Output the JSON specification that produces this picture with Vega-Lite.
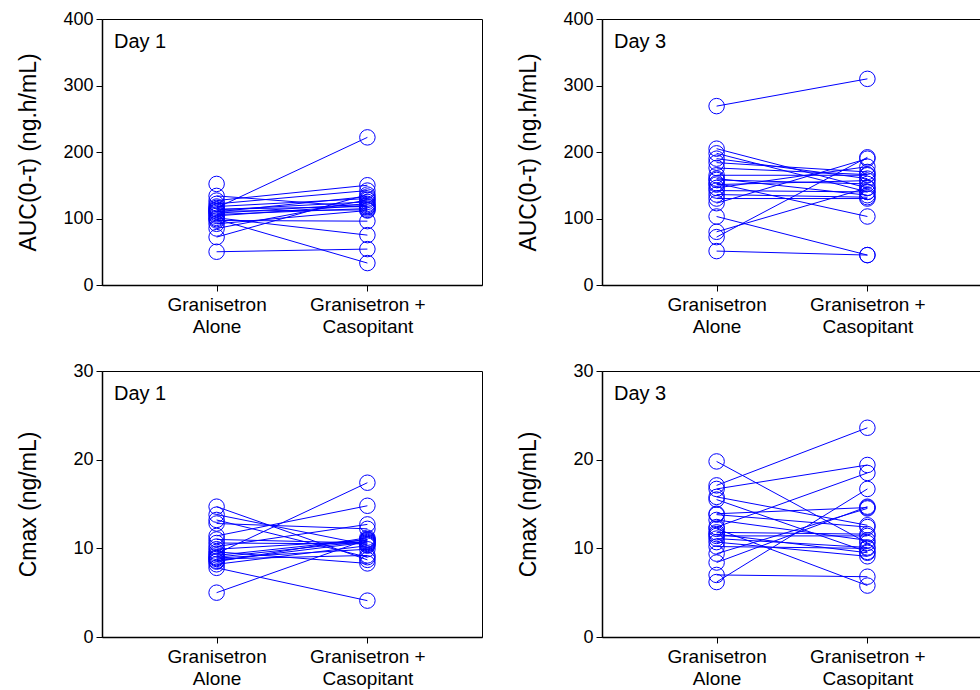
{
  "$schema": "https://vega.github.io/schema/vega-lite/v6.json",
  "background": "white",
  "padding": {"left": 16, "top": 9, "right": 0, "bottom": 0},
  "data": {"values": [
    {"measure":"AUC","day":"Day 1","subject":1,"alone":152,"combined":null},
    {"measure":"AUC","day":"Day 1","subject":2,"alone":116,"combined":222},
    {"measure":"AUC","day":"Day 1","subject":3,"alone":127,"combined":150},
    {"measure":"AUC","day":"Day 1","subject":4,"alone":122,"combined":142},
    {"measure":"AUC","day":"Day 1","subject":5,"alone":72,"combined":136},
    {"measure":"AUC","day":"Day 1","subject":6,"alone":110,"combined":133},
    {"measure":"AUC","day":"Day 1","subject":7,"alone":118,"combined":130},
    {"measure":"AUC","day":"Day 1","subject":8,"alone":85,"combined":128},
    {"measure":"AUC","day":"Day 1","subject":9,"alone":113,"combined":125},
    {"measure":"AUC","day":"Day 1","subject":10,"alone":108,"combined":122},
    {"measure":"AUC","day":"Day 1","subject":11,"alone":114,"combined":118},
    {"measure":"AUC","day":"Day 1","subject":12,"alone":106,"combined":115},
    {"measure":"AUC","day":"Day 1","subject":13,"alone":111,"combined":113},
    {"measure":"AUC","day":"Day 1","subject":14,"alone":104,"combined":120},
    {"measure":"AUC","day":"Day 1","subject":15,"alone":97,"combined":96},
    {"measure":"AUC","day":"Day 1","subject":16,"alone":101,"combined":75},
    {"measure":"AUC","day":"Day 1","subject":17,"alone":99,"combined":33},
    {"measure":"AUC","day":"Day 1","subject":18,"alone":50,"combined":54},
    {"measure":"AUC","day":"Day 1","subject":19,"alone":92,"combined":112},
    {"measure":"AUC","day":"Day 1","subject":20,"alone":134,"combined":117},
    {"measure":"AUC","day":"Day 3","subject":1,"alone":269,"combined":310},
    {"measure":"AUC","day":"Day 3","subject":2,"alone":205,"combined":146},
    {"measure":"AUC","day":"Day 3","subject":3,"alone":198,"combined":140},
    {"measure":"AUC","day":"Day 3","subject":4,"alone":190,"combined":160},
    {"measure":"AUC","day":"Day 3","subject":5,"alone":184,"combined":170},
    {"measure":"AUC","day":"Day 3","subject":6,"alone":176,"combined":166},
    {"measure":"AUC","day":"Day 3","subject":7,"alone":165,"combined":165},
    {"measure":"AUC","day":"Day 3","subject":8,"alone":158,"combined":152},
    {"measure":"AUC","day":"Day 3","subject":9,"alone":153,"combined":103},
    {"measure":"AUC","day":"Day 3","subject":10,"alone":151,"combined":157},
    {"measure":"AUC","day":"Day 3","subject":11,"alone":146,"combined":178},
    {"measure":"AUC","day":"Day 3","subject":12,"alone":142,"combined":140},
    {"measure":"AUC","day":"Day 3","subject":13,"alone":136,"combined":132},
    {"measure":"AUC","day":"Day 3","subject":14,"alone":130,"combined":130},
    {"measure":"AUC","day":"Day 3","subject":15,"alone":123,"combined":190},
    {"measure":"AUC","day":"Day 3","subject":16,"alone":103,"combined":45},
    {"measure":"AUC","day":"Day 3","subject":17,"alone":80,"combined":146},
    {"measure":"AUC","day":"Day 3","subject":18,"alone":72,"combined":192},
    {"measure":"AUC","day":"Day 3","subject":19,"alone":51,"combined":45},
    {"measure":"AUC","day":"Day 3","subject":20,"alone":160,"combined":135},
    {"measure":"Cmax","day":"Day 1","subject":1,"alone":14.7,"combined":8.7},
    {"measure":"Cmax","day":"Day 1","subject":2,"alone":13.2,"combined":9.0},
    {"measure":"Cmax","day":"Day 1","subject":3,"alone":12.8,"combined":12.2},
    {"measure":"Cmax","day":"Day 1","subject":4,"alone":11.4,"combined":14.8},
    {"measure":"Cmax","day":"Day 1","subject":5,"alone":11.0,"combined":10.6},
    {"measure":"Cmax","day":"Day 1","subject":6,"alone":10.6,"combined":10.5},
    {"measure":"Cmax","day":"Day 1","subject":7,"alone":10.2,"combined":12.7},
    {"measure":"Cmax","day":"Day 1","subject":8,"alone":9.9,"combined":10.9},
    {"measure":"Cmax","day":"Day 1","subject":9,"alone":9.4,"combined":17.4},
    {"measure":"Cmax","day":"Day 1","subject":10,"alone":9.2,"combined":11.0},
    {"measure":"Cmax","day":"Day 1","subject":11,"alone":9.0,"combined":10.8},
    {"measure":"Cmax","day":"Day 1","subject":12,"alone":8.8,"combined":9.2},
    {"measure":"Cmax","day":"Day 1","subject":13,"alone":8.6,"combined":10.7},
    {"measure":"Cmax","day":"Day 1","subject":14,"alone":8.5,"combined":11.2},
    {"measure":"Cmax","day":"Day 1","subject":15,"alone":8.2,"combined":10.3},
    {"measure":"Cmax","day":"Day 1","subject":16,"alone":7.8,"combined":4.1},
    {"measure":"Cmax","day":"Day 1","subject":17,"alone":5.0,"combined":11.0},
    {"measure":"Cmax","day":"Day 1","subject":18,"alone":13.8,"combined":10.4},
    {"measure":"Cmax","day":"Day 1","subject":19,"alone":9.6,"combined":8.3},
    {"measure":"Cmax","day":"Day 1","subject":20,"alone":8.9,"combined":9.9},
    {"measure":"Cmax","day":"Day 3","subject":1,"alone":19.8,"combined":10.6},
    {"measure":"Cmax","day":"Day 3","subject":2,"alone":17.1,"combined":23.6},
    {"measure":"Cmax","day":"Day 3","subject":3,"alone":16.7,"combined":19.4},
    {"measure":"Cmax","day":"Day 3","subject":4,"alone":15.8,"combined":12.6},
    {"measure":"Cmax","day":"Day 3","subject":5,"alone":15.5,"combined":9.6},
    {"measure":"Cmax","day":"Day 3","subject":6,"alone":13.9,"combined":14.6},
    {"measure":"Cmax","day":"Day 3","subject":7,"alone":13.8,"combined":12.4},
    {"measure":"Cmax","day":"Day 3","subject":8,"alone":12.4,"combined":18.5},
    {"measure":"Cmax","day":"Day 3","subject":9,"alone":12.2,"combined":5.8},
    {"measure":"Cmax","day":"Day 3","subject":10,"alone":11.8,"combined":11.6},
    {"measure":"Cmax","day":"Day 3","subject":11,"alone":11.4,"combined":11.4},
    {"measure":"Cmax","day":"Day 3","subject":12,"alone":11.1,"combined":10.1},
    {"measure":"Cmax","day":"Day 3","subject":13,"alone":10.7,"combined":9.1},
    {"measure":"Cmax","day":"Day 3","subject":14,"alone":10.2,"combined":10.0},
    {"measure":"Cmax","day":"Day 3","subject":15,"alone":9.4,"combined":14.5},
    {"measure":"Cmax","day":"Day 3","subject":16,"alone":8.4,"combined":14.7},
    {"measure":"Cmax","day":"Day 3","subject":17,"alone":7.0,"combined":6.8},
    {"measure":"Cmax","day":"Day 3","subject":18,"alone":6.2,"combined":16.7},
    {"measure":"Cmax","day":"Day 3","subject":19,"alone":11.6,"combined":9.5},
    {"measure":"Cmax","day":"Day 3","subject":20,"alone":13.2,"combined":10.9}
  ]},
  "spacing": 24,
  "vconcat": [
    {"spacing": 33, "hconcat": [
      {
        "width": 380, "height": 266,
        "title": {"text": "Day 1"},
        "transform": [{"filter": "datum.measure == 'AUC' && datum.day == 'Day 1'"}, {"fold": ["alone", "combined"], "as": ["treatment", "value"]}],
        "encoding": {
          "x": {"field": "treatment", "type": "nominal", "scale": {"type": "point", "padding": 0.76, "domain": ["alone", "combined"]}, "axis": {"title": null, "labelExpr": "datum.value == 'alone' ? ['Granisetron', 'Alone'] : ['Granisetron +', 'Casopitant']"}},
          "y": {"field": "value", "type": "quantitative", "scale": {"domain": [0, 400], "nice": false}, "axis": {"title": "AUC(0-τ) (ng.h/mL)", "values": [0, 100, 200, 300, 400]}}
        },
        "layer": [
          {"mark": {"type": "line", "color": "#0000ff", "strokeWidth": 1}, "encoding": {"detail": {"field": "subject", "type": "nominal"}}},
          {"mark": {"type": "point", "shape": "circle", "filled": false, "color": "#0000ff", "size": 240, "strokeWidth": 1, "opacity": 1}}
        ]
      },
      {
        "width": 380, "height": 266,
        "title": {"text": "Day 3"},
        "transform": [{"filter": "datum.measure == 'AUC' && datum.day == 'Day 3'"}, {"fold": ["alone", "combined"], "as": ["treatment", "value"]}],
        "encoding": {
          "x": {"field": "treatment", "type": "nominal", "scale": {"type": "point", "padding": 0.76, "domain": ["alone", "combined"]}, "axis": {"title": null, "labelExpr": "datum.value == 'alone' ? ['Granisetron', 'Alone'] : ['Granisetron +', 'Casopitant']"}},
          "y": {"field": "value", "type": "quantitative", "scale": {"domain": [0, 400], "nice": false}, "axis": {"title": "AUC(0-τ) (ng.h/mL)", "values": [0, 100, 200, 300, 400]}}
        },
        "layer": [
          {"mark": {"type": "line", "color": "#0000ff", "strokeWidth": 1}, "encoding": {"detail": {"field": "subject", "type": "nominal"}}},
          {"mark": {"type": "point", "shape": "circle", "filled": false, "color": "#0000ff", "size": 240, "strokeWidth": 1, "opacity": 1}}
        ]
      }
    ]},
    {"spacing": 33, "hconcat": [
      {
        "width": 380, "height": 266,
        "title": {"text": "Day 1"},
        "transform": [{"filter": "datum.measure == 'Cmax' && datum.day == 'Day 1'"}, {"fold": ["alone", "combined"], "as": ["treatment", "value"]}],
        "encoding": {
          "x": {"field": "treatment", "type": "nominal", "scale": {"type": "point", "padding": 0.76, "domain": ["alone", "combined"]}, "axis": {"title": null, "labelExpr": "datum.value == 'alone' ? ['Granisetron', 'Alone'] : ['Granisetron +', 'Casopitant']"}},
          "y": {"field": "value", "type": "quantitative", "scale": {"domain": [0, 30], "nice": false}, "axis": {"title": "Cmax (ng/mL)", "values": [0, 10, 20, 30]}}
        },
        "layer": [
          {"mark": {"type": "line", "color": "#0000ff", "strokeWidth": 1}, "encoding": {"detail": {"field": "subject", "type": "nominal"}}},
          {"mark": {"type": "point", "shape": "circle", "filled": false, "color": "#0000ff", "size": 240, "strokeWidth": 1, "opacity": 1}}
        ]
      },
      {
        "width": 380, "height": 266,
        "title": {"text": "Day 3"},
        "transform": [{"filter": "datum.measure == 'Cmax' && datum.day == 'Day 3'"}, {"fold": ["alone", "combined"], "as": ["treatment", "value"]}],
        "encoding": {
          "x": {"field": "treatment", "type": "nominal", "scale": {"type": "point", "padding": 0.76, "domain": ["alone", "combined"]}, "axis": {"title": null, "labelExpr": "datum.value == 'alone' ? ['Granisetron', 'Alone'] : ['Granisetron +', 'Casopitant']"}},
          "y": {"field": "value", "type": "quantitative", "scale": {"domain": [0, 30], "nice": false}, "axis": {"title": "Cmax (ng/mL)", "values": [0, 10, 20, 30]}}
        },
        "layer": [
          {"mark": {"type": "line", "color": "#0000ff", "strokeWidth": 1}, "encoding": {"detail": {"field": "subject", "type": "nominal"}}},
          {"mark": {"type": "point", "shape": "circle", "filled": false, "color": "#0000ff", "size": 240, "strokeWidth": 1, "opacity": 1}}
        ]
      }
    ]}
  ],
  "config": {
    "font": "Liberation Sans",
    "view": {"stroke": "#000000", "strokeWidth": 1},
    "title": {"font": "Liberation Sans", "fontSize": 20, "fontWeight": "normal", "color": "#000000", "anchor": "start", "frame": "group", "orient": "top", "offset": -42, "dx": 12, "baseline": "alphabetic"},
    "axis": {"grid": false, "domainColor": "#000000", "domainWidth": 1.5, "tickColor": "#000000", "tickSize": 6, "labelColor": "#000000", "labelFont": "Liberation Sans", "titleFont": "Liberation Sans", "titleColor": "#000000", "titleFontWeight": "normal"},
    "axisY": {"labelFontSize": 18, "labelPadding": 3, "titleFontSize": 23, "titlePadding": 22, "labelFlush": false, "minExtent": 40, "maxExtent": 40},
    "axisX": {"labelFontSize": 19, "labelAngle": 0, "labelPadding": 4, "labelLineHeight": 22, "labelBaseline": "top"}
  }
}
